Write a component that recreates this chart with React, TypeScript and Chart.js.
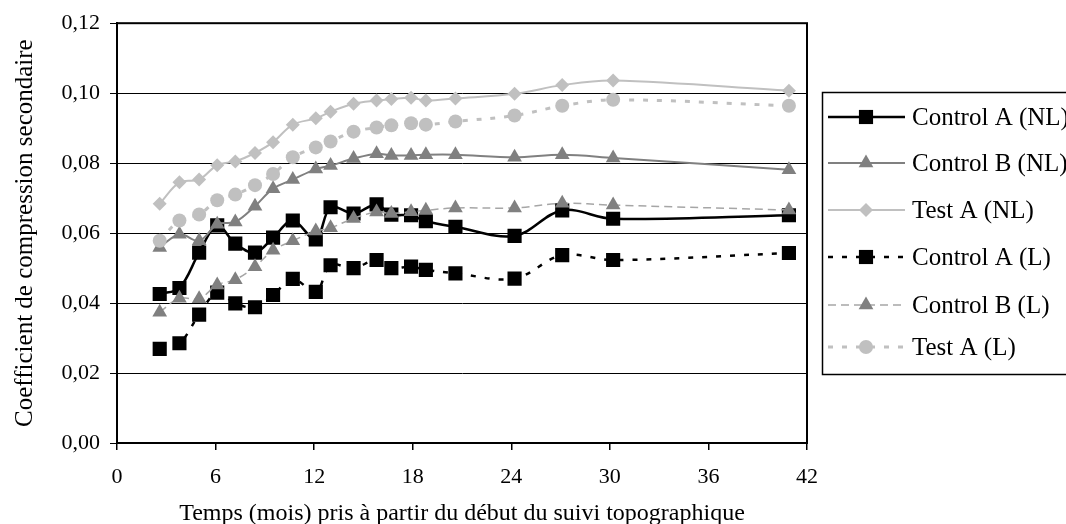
import React, { useEffect, useRef } from 'react';
import { Chart, registerables } from 'chart.js';

Chart.register(...registerables);

// ---- Data ----
const months = [2.6, 3.8, 5.0, 6.1, 7.2, 8.4, 9.5, 10.7, 12.1, 13.0, 14.4, 15.8, 16.7, 17.9, 18.8, 20.6, 24.2, 27.1, 30.2, 40.9];

const controlA_NL = [0.0426, 0.0443, 0.0544, 0.0622, 0.0570, 0.0544, 0.0587, 0.0636, 0.0582, 0.0674, 0.0656, 0.0682, 0.0653, 0.0651, 0.0634, 0.0618, 0.0592, 0.0665, 0.0641, 0.0651];
const controlB_NL = [0.0559, 0.0597, 0.0578, 0.0625, 0.0632, 0.0677, 0.0727, 0.0753, 0.0783, 0.0793, 0.0813, 0.0827, 0.0822, 0.0822, 0.0824, 0.0824, 0.0817, 0.0824, 0.0815, 0.0781];
const testA_NL = [0.0684, 0.0745, 0.0753, 0.0794, 0.0805, 0.0829, 0.0860, 0.0910, 0.0928, 0.0947, 0.0970, 0.0979, 0.0983, 0.0987, 0.0979, 0.0985, 0.0998, 0.1023, 0.1036, 0.1007];
const controlA_L = [0.0269, 0.0285, 0.0367, 0.0430, 0.0399, 0.0388, 0.0423, 0.0469, 0.0432, 0.0508, 0.0500, 0.0523, 0.0500, 0.0504, 0.0495, 0.0485, 0.0470, 0.0537, 0.0523, 0.0543];
const controlB_L = [0.0374, 0.0414, 0.0412, 0.0452, 0.0467, 0.0504, 0.0551, 0.0578, 0.0606, 0.0615, 0.0642, 0.0660, 0.0656, 0.0661, 0.0665, 0.0672, 0.0672, 0.0685, 0.0680, 0.0666];
const testA_L = [0.0578, 0.0636, 0.0653, 0.0694, 0.0710, 0.0737, 0.0769, 0.0817, 0.0845, 0.0862, 0.0890, 0.0902, 0.0908, 0.0914, 0.0910, 0.0919, 0.0936, 0.0964, 0.0981, 0.0964];

const seriesLabels = ['Control A (NL)', 'Control B (NL)', 'Test A (NL)', 'Control A (L)', 'Control B (L)', 'Test A (L)'];
const seriesValues = [controlA_NL, controlB_NL, testA_NL, controlA_L, controlB_L, testA_L];

const yTicks = [0, 0.02, 0.04, 0.06, 0.08, 0.1, 0.12];
const xTitle = 'Temps (mois) pris à partir du début du suivi topographique';
const yTitle = 'Coefficient de compression secondaire';

// ---- Styles ----
const SERIF = "'Liberation Serif', 'Times New Roman', serif";
const seriesStyles = [
  { line: '#000000', marker: '#000000', width: 2.5, dash: [] as number[], point: 'rect', radius: 10 },
  { line: '#808080', marker: '#808080', width: 2, dash: [] as number[], point: 'triangle', radius: 8.5 },
  { line: '#C0C0C0', marker: '#C0C0C0', width: 2, dash: [] as number[], point: 'rectRot', radius: 7 },
  { line: '#000000', marker: '#000000', width: 2.5, dash: [5, 9], point: 'rect', radius: 10 },
  { line: '#A6A6A6', marker: '#808080', width: 1.5, dash: [8, 5], point: 'triangle', radius: 8.5 },
  { line: '#C0C0C0', marker: '#C0C0C0', width: 3, dash: [5, 9], point: 'circle', radius: 7 },
];

function drawMarker(ctx: CanvasRenderingContext2D, style: string, x: number, y: number, r: number, color: string) {
  ctx.fillStyle = color;
  ctx.beginPath();
  if (style === 'rect') {
    const s = Math.SQRT1_2 * r;
    ctx.rect(x - s, y - s, 2 * s, 2 * s);
  } else if (style === 'triangle') {
    const size = (3 * r) / Math.sqrt(3);
    const h = (size * Math.sqrt(3)) / 2;
    ctx.moveTo(x - size / 2, y + h / 3);
    ctx.lineTo(x + size / 2, y + h / 3);
    ctx.lineTo(x, y - (2 * h) / 3);
    ctx.closePath();
  } else if (style === 'rectRot') {
    ctx.moveTo(x - r, y);
    ctx.lineTo(x, y - r);
    ctx.lineTo(x + r, y);
    ctx.lineTo(x, y + r);
    ctx.closePath();
  } else {
    ctx.arc(x, y, r, 0, Math.PI * 2);
  }
  ctx.fill();
}

const frameAndLegend = {
  id: 'frameAndLegend',
  beforeDatasetsDraw(chart: any) {
    const ctx = chart.ctx as CanvasRenderingContext2D;
    const { left, top, right, bottom } = chart.chartArea;
    ctx.save();
    ctx.strokeStyle = '#000';
    ctx.lineWidth = 2;
    ctx.strokeRect(left, top, right - left, bottom - top);
    ctx.restore();
  },
  afterDraw(chart: any) {
    const ctx = chart.ctx as CanvasRenderingContext2D;
    ctx.save();
    ctx.strokeStyle = '#000';
    ctx.lineWidth = 1.5;
    ctx.strokeRect(822.5, 92.5, 260, 282);
    const rows = [117, 163, 210, 257, 305, 347];
    seriesLabels.forEach((label, i) => {
      const st = seriesStyles[i];
      const y = rows[i];
      ctx.save();
      ctx.strokeStyle = st.line;
      ctx.lineWidth = st.width;
      ctx.setLineDash(st.dash);
      ctx.beginPath();
      ctx.moveTo(828, y);
      ctx.lineTo(905, y);
      ctx.stroke();
      ctx.restore();
      drawMarker(ctx, st.point, 866, y, st.radius, st.marker);
      ctx.fillStyle = '#000';
      ctx.font = `25px ${SERIF}`;
      ctx.textAlign = 'left';
      ctx.textBaseline = 'middle';
      ctx.fillText(label, 912, y + 1);
    });
    ctx.restore();
  },
};

export default function App() {
  const ref = useRef<HTMLCanvasElement | null>(null);

  useEffect(() => {
    document.body.style.margin = '0';
    if (!ref.current) return;
    const datasets = seriesLabels.map((label, i) => {
      const st = seriesStyles[i];
      return {
        label,
        data: months.map((m, j) => ({ x: m, y: seriesValues[i][j] })),
        borderColor: st.line,
        borderWidth: st.width,
        borderDash: st.dash,
        backgroundColor: st.marker,
        pointStyle: st.point,
        pointRadius: st.radius,
        pointBackgroundColor: st.marker,
        pointBorderWidth: 0,
        pointBorderColor: st.marker,
        tension: 0.35,
        fill: false,
        order: seriesLabels.length - i,
      };
    });

    const chart = new Chart(ref.current, {
      type: 'line',
      data: { datasets },
      plugins: [frameAndLegend],
      options: {
        animation: false,
        responsive: false,
        devicePixelRatio: 1,
        layout: { padding: { left: 0, right: 259, top: 21, bottom: 0 } },
        plugins: { legend: { display: false }, tooltip: { enabled: false } },
        scales: {
          x: {
            type: 'linear',
            min: 0,
            max: 42,
            afterFit: (s: any) => { s.height = 81; },
            ticks: { stepSize: 6, color: '#000', font: { family: SERIF, size: 22 }, padding: 14, maxRotation: 0 },
            grid: { drawOnChartArea: false, drawTicks: true, tickLength: 7, color: '#000', lineWidth: 1.5 },
            border: { color: '#000', width: 2 },
            title: { display: true, text: xTitle, color: '#000', font: { family: SERIF, size: 24 }, padding: { top: 0, bottom: -4 } },
          },
          y: {
            type: 'linear',
            min: 0,
            max: 0.12,
            afterFit: (s: any) => { s.width = 117; },
            afterBuildTicks: (s: any) => { s.ticks = yTicks.map((v) => ({ value: v })); },
            ticks: {
              color: '#000',
              font: { family: SERIF, size: 22 },
              padding: 10,
              callback: (v: any) => Number(v).toFixed(2).replace('.', ','),
            },
            grid: { color: '#000', lineWidth: 1, tickLength: 7 },
            border: { color: '#000', width: 2 },
            title: { display: true, text: yTitle, color: '#000', font: { family: SERIF, size: 25 }, padding: { top: 10, bottom: 0 } },
          },
        },
      },
    } as any);
    return () => chart.destroy();
  }, []);

  return (
    <div style={{ width: 1066, height: 524, background: '#fff' }}>
      <canvas ref={ref} width={1066} height={524} style={{ display: 'block' }} />
    </div>
  );
}
